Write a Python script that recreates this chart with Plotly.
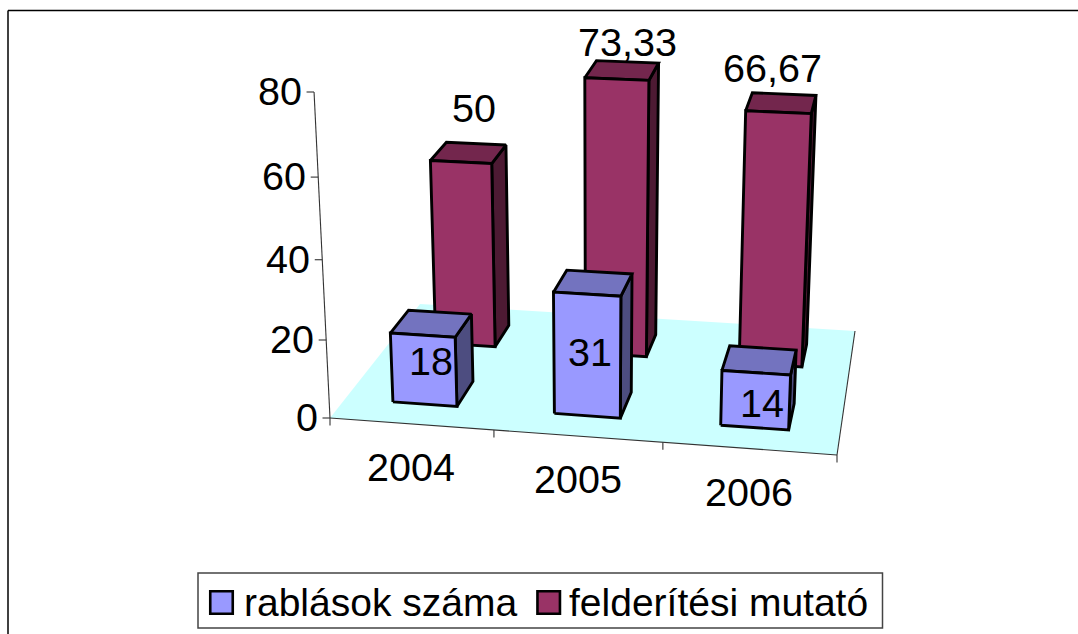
import numpy as np
import plotly.graph_objects as go

# ---- data ----
categories = ["2004", "2005", "2006"]
series_names = ["rablások száma", "felderítési mutató"]
rablasok = [18, 31, 14]
felderitesi = [50, 73.33, 66.67]
value_ticks = [0, 20, 40, 60, 80]

# ---- styles ----
FONT = "Liberation Sans, Arial, sans-serif"
FS = 39.5
LEGEND_FS = 39
front_col = ["#9999FF", "#993366"]
top_col = ["#7373BF", "#73264D"]
side_col = ["#4D4D80", "#4D1A33"]
floor_col = "#CCFFFF"
axis_col = "#333333"
EDGE = 2.9

# ---- camera: calibration of the chart frame on the page ----
floor_px = [(330, 418), (837, 455), (855, 331), (420, 304)]
vert_vp = (597.0, 5875.0)
axis_top_px_y = 92.0
wmax = 80.0
back_row_start = 0.65   # depth where the rear row of bars begins
back_row_lift = 0.2     # small extra rise of the rear row's far edges


def floor_matrix(q):
    (x0, y0), (x1, y1), (x2, y2), (x3, y3) = q
    sx, sy = x0 - x1 + x2 - x3, y0 - y1 + y2 - y3
    dx1, dy1, dx2, dy2 = x1 - x2, y1 - y2, x3 - x2, y3 - y2
    den = dx1 * dy2 - dx2 * dy1
    g = (sx * dy2 - dx2 * sy) / den
    h = (dx1 * sy - sx * dy1) / den
    return np.array([
        [x1 - x0 + g * x1, x3 - x0 + h * x3, x0],
        [y1 - y0 + g * y1, y3 - y0 + h * y3, y0],
        [g, h, 1.0],
    ])


H = floor_matrix(floor_px)
y0_px = floor_px[0][1]
scale = (axis_top_px_y - y0_px) / (wmax * (vert_vp[1] - axis_top_px_y))
W = scale * np.array([vert_vp[0], vert_vp[1], 1.0])
n_cat = len(categories)


def project(u, v, w):
    """u: category position, v: depth 0..1, w: value."""
    p = H @ np.array([u / n_cat, v, 1.0]) + w * W
    return p[0] / p[2], p[1] / p[2] - back_row_lift * w * max(v - back_row_start, 0)


def poly(points):
    xy = [project(*p) for p in points]
    xy.append(xy[0])
    return [a for a, _ in xy], [b for _, b in xy]


fig = go.Figure()


def add_face(points, color, name):
    x, y = poly(points)
    fig.add_trace(go.Scatter(x=x, y=y, mode="lines", fill="toself", fillcolor=color,
                             line=dict(color="black", width=EDGE), name=name,
                             showlegend=False, hoverinfo="skip"))


# floor
x, y = poly([(0, 0, 0), (n_cat, 0, 0), (n_cat, 1, 0), (0, 1, 0)])
fig.add_trace(go.Scatter(x=x, y=y, mode="lines", fill="toself", fillcolor=floor_col,
                         line=dict(width=0), showlegend=False, hoverinfo="skip"))

# axes, including the right-hand edge of the floor
ax_x, ax_y = [], []
for a, b in [((0, 0, 0), (0, 0, wmax)), ((0, 0, 0), (n_cat, 0, 0)), ((n_cat, 0, 0), (n_cat, 1, 0))]:
    p, q = project(*a), project(*b)
    ax_x += [p[0], q[0], None]
    ax_y += [p[1], q[1], None]
TICK = 7.5
for t in value_ticks:
    p = project(0, 0, t)
    ax_x += [p[0] - TICK, p[0], None]
    ax_y += [p[1], p[1], None]
for i in range(n_cat + 1):
    p = project(i, 0, 0)
    ax_x += [p[0], p[0], None]
    ax_y += [p[1], p[1] + TICK, None]
fig.add_trace(go.Scatter(x=ax_x, y=ax_y, mode="lines", line=dict(color=axis_col, width=1.1),
                         showlegend=False, hoverinfo="skip"))

# bars: back row first, each category left to right
LO, HI = 0.3, 0.7
values = [rablasok, felderitesi]
for row in (1, 0):
    for i, val in enumerate(values[row]):
        u0, u1 = i + LO, i + HI
        v0, v1 = (row + LO) / 2, (row + HI) / 2
        name = series_names[row]
        add_face([(u1, v0, 0), (u1, v1, 0), (u1, v1, val), (u1, v0, val)], side_col[row], name)
        add_face([(u0, v0, val), (u1, v0, val), (u1, v1, val), (u0, v1, val)], top_col[row], name)
        add_face([(u0, v0, 0), (u1, v0, 0), (u1, v0, val), (u0, v0, val)], front_col[row], name)

annotations = []


def label(x, y, text, anchor="center", dx=0, dy=0, size=FS):
    annotations.append(dict(x=x, y=y, xref="x", yref="y", text=text, showarrow=False,
                            xanchor=anchor, yanchor="middle", xshift=dx, yshift=-dy,
                            font=dict(family=FONT, size=size, color="black")))


# value and category labels
for t in value_ticks:
    p = project(0, 0, t)
    label(p[0], p[1], str(t), "right", dx=-10, dy=-1)
for i, c in enumerate(categories):
    p = project(i + 0.5, 0, 0)
    label(p[0], p[1], c, dy=43)

# data labels
label_off = [[(0, 38), (-3, 69), (2, 43)], [(5, -45), (5, -28), (-9, -35)]]
for row in (0, 1):
    for i, val in enumerate(values[row]):
        p = project(i + 0.5, (row + 0.5) / 2, val)
        label(p[0], p[1], f"{val:g}".replace(".", ","), dx=label_off[row][i][0], dy=label_off[row][i][1])

# legend
legend_box = dict(x0=198, x1=882.5, y0=573, y1=628)
swatch_x = [221.5, 548.7]
swatch_y = 602.5
text_x = [242, 567]
for k in range(2):
    fig.add_trace(go.Scatter(x=[swatch_x[k]], y=[swatch_y], mode="markers", name=series_names[k],
                             marker=dict(symbol="square", size=22.5, color=front_col[k],
                                         line=dict(color="black", width=2.6)),
                             showlegend=False, hoverinfo="skip"))
    label(text_x[k], swatch_y, series_names[k], "left", size=LEGEND_FS)

shapes = [
    dict(type="rect", xref="x", yref="y", line=dict(color="#444444", width=1.5), fillcolor="rgba(0,0,0,0)", **legend_box),
    dict(type="line", xref="x", yref="y", x0=8, x1=1078, y0=10.5, y1=10.5, line=dict(color="black", width=1.5)),
    dict(type="line", xref="x", yref="y", x0=8, x1=8, y0=10.5, y1=634, line=dict(color="black", width=1.5)),
]

fig.update_layout(
    width=1078, height=634, margin=dict(l=0, r=0, t=0, b=0),
    paper_bgcolor="white", plot_bgcolor="white", showlegend=False,
    xaxis=dict(range=[0, 1078], visible=False, fixedrange=True),
    yaxis=dict(range=[634, 0], visible=False, fixedrange=True),
    annotations=annotations, shapes=shapes,
)
fig.write_html("out.html", config=dict(displayModeBar=False),
               post_script="document.body.style.margin='0';document.body.style.overflow='hidden';")
